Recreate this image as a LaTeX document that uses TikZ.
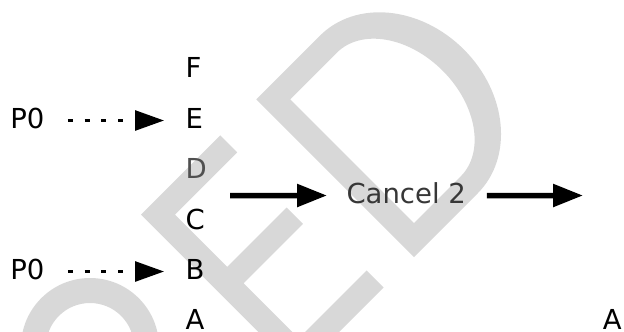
\documentclass[tikz,border=0pt]{standalone}
\usepackage{fontspec}
\setmainfont{DejaVu Sans}
\usetikzlibrary{arrows.meta}
\definecolor{wm}{RGB}{216,216,216}
\definecolor{dgray}{RGB}{80,80,80}
\definecolor{cgray}{RGB}{55,55,55}
\begin{document}
\begin{tikzpicture}[x=1bp,y=1bp,
  lbl/.style={inner sep=0pt, outer sep=0pt, text height=15bp, text depth=0bp, anchor=base west, font=\fontsize{27.5bp}{33bp}\selectfont},
  dasharrow/.style={line width=2.8bp, dash pattern=on 5bp off 11.7bp, -{Triangle[length=29bp,width=20bp]}},
  bigarrow/.style={line width=5.5bp, -{Triangle[length=30bp,width=22bp]}},
  wmark/.style={fill=wm}]
\useasboundingbox (0,0) rectangle (624,-331);
\clip (0,0) rectangle (624,-331);
% watermark
\fill[wmark, even odd rule] (90,-347) circle[radius=69] (90,-347) circle[radius=44];
\begin{scope}[shift={(414,-257)}, rotate=45]
  \fill[wmark] (-163,0) -- (-43,0) -- (-43,24) -- (-139,24) -- (-139,102) -- (-55,102) -- (-55,125) -- (-139,125) -- (-139,199) -- (-51,199) -- (-51,223) -- (-163,223) -- cycle;
  \fill[wmark, even odd rule] (0,0) -- (0,223) -- (90,223) arc[start angle=90, end angle=-90, x radius=92, y radius=111.5] -- cycle
    (24,24) -- (24,199) -- (90,199) arc[start angle=90, end angle=-90, x radius=62, y radius=87.5] -- cycle;
\end{scope}
% left stack
\node[lbl] (F) at (185.5,-77.5) {F};
\node[lbl] (E) at (185.5,-128) {E};
\node[lbl, text=dgray] (D) at (185.5,-178.5) {D};
\node[lbl] (C) at (185.5,-229) {C};
\node[lbl] (B) at (185.5,-279) {B};
\node[lbl] (A) at (185.5,-329) {A};
% pointers
\node[lbl] (p1) at (10.3,-128) {P0};
\node[lbl] (p2) at (10.3,-279) {P0};
\draw[dasharrow, shorten <=23.6bp, shorten >=21.5bp] (p1.east) -- (E.west);
\draw[dasharrow, shorten <=23.6bp, shorten >=21.5bp] (p2.east) -- (B.west);
% operation
\node[lbl, text=cgray] (cancel) at (346.5,-203) {Cancel 2};
\coordinate (s1) at (230,-195.5);
\coordinate (e2) at (583,-195.5);
\draw[bigarrow, shorten >=19.5bp] (s1) -- (cancel.west);
\draw[bigarrow, shorten <=21bp] (cancel.east) -- (e2);
% right stack
\node[lbl] (A2) at (602.8,-329) {A};
\end{tikzpicture}
\end{document}
